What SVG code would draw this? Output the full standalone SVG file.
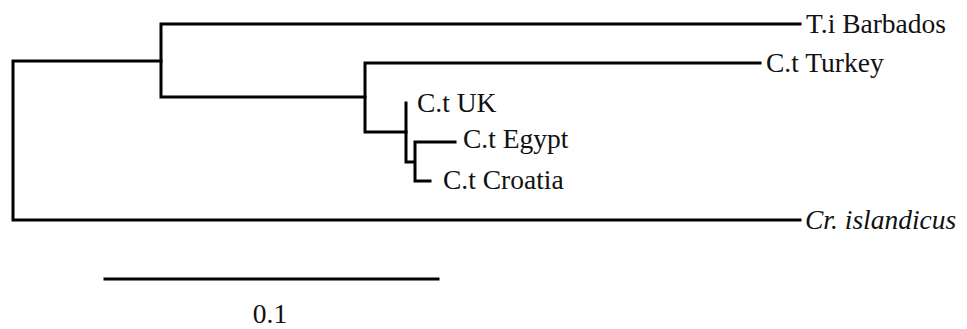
<svg xmlns="http://www.w3.org/2000/svg" width="967" height="329" viewBox="0 0 967 329">
  <style>
    .br { fill: none; stroke: #000; stroke-width: 3; stroke-linejoin: miter; stroke-linecap: square; }
    .lab { font-family: 'Liberation Serif', 'Times New Roman', Times, serif; font-size: 27.5px; fill: #111; }
    .it { font-style: italic; }
  </style>
  <rect width="967" height="329" fill="#fff"/>
  <g id="connectors">
    <!-- root split -->
    <polyline class="br" points="161,61 13,61 13,220 800,220"/>
    <!-- Barbados vs rest -->
    <polyline class="br" points="800,24 161,24 161,97 365,97"/>
    <!-- Turkey vs rest -->
    <polyline class="br" points="760,63 365,63 365,132 406,132"/>
    <!-- UK clade -->
    <polyline class="br" points="406,103 406,162 414,162"/>
    <!-- Egypt / Croatia -->
    <polyline class="br" points="455,142 415,142 415,181 430,181"/>
  </g>
  <g id="tip-barbados"><text class="lab" x="806" y="33">T.i Barbados</text></g>
  <g id="tip-turkey"><text class="lab" x="766" y="72">C.t Turkey</text></g>
  <g id="tip-uk"><text class="lab" x="417" y="112">C.t UK</text></g>
  <g id="tip-egypt"><text class="lab" x="463" y="148">C.t Egypt</text></g>
  <g id="tip-croatia"><text class="lab" x="443" y="189">C.t Croatia</text></g>
  <g id="tip-islandicus"><text class="lab it" x="805" y="229">Cr. islandicus</text></g>
  <g id="scale-bar">
    <line class="br" x1="105" y1="279" x2="438" y2="279" stroke-linecap="butt"/>
    <text class="lab" x="270" y="323" text-anchor="middle">0.1</text>
  </g>
</svg>
